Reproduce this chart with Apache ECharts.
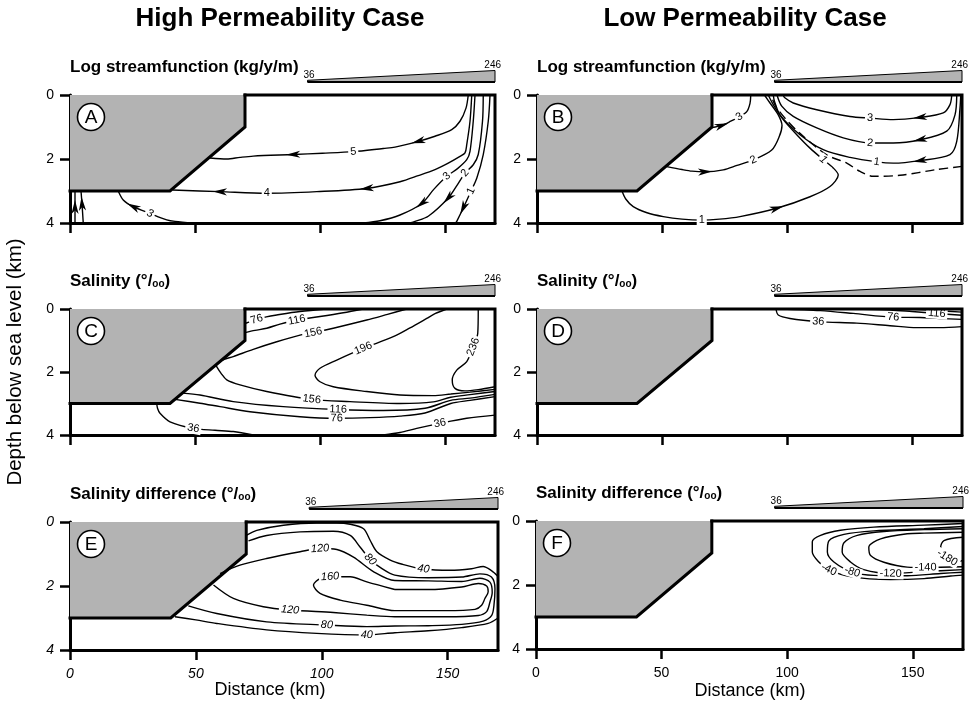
<!DOCTYPE html>
<html><head><meta charset="utf-8">
<script src="https://cdn.jsdelivr.net/npm/echarts@6/dist/echarts.min.js"></script>
<style>html,body{margin:0;padding:0;background:#fff}#c{width:973px;height:708px}</style>
</head><body><div id="c"></div>
<script>
const FONT = "'Liberation Sans', Arial, Helvetica, sans-serif";
// ---------- axes ----------
const xTicks = [0, 50, 100, 150];
const yTicks = [0, 2, 4];
const xRange = [0, 170];
const yRange = [0, 4];
// ---------- geometry (km, depth km) ----------
const basement = [[0,0],[70,0],[70,1],[40,3],[0,3]];
const domainEdge = [[70,0],[170,0],[170,4]];
const surfaceSalinity = [[95,36],[170,246]];

// ---------- Panel A : log streamfunction, high permeability ----------
const A_psi5 = [[159.3,0],[158.4,0.41],[156,0.82],[152.7,1.08],[146,1.29],[139.3,1.45],[130,1.63],[125.3,1.67],[113.3,1.77],[101,1.82],[89.3,1.86],[73.3,1.91],[68,1.95],[62.7,2.0],[56,1.97]];
const A_psi4 = [[160.7,0],[160,0.82],[158.7,1.55],[158,1.81],[156,1.92],[151.3,2.13],[146,2.33],[139.3,2.52],[132,2.71],[118.7,2.92],[98.7,3.02],[78.7,3.07],[60,3.02],[41,2.97]];
const A_psi3 = [[162,0],[161.3,0.82],[160,1.76],[158.7,2.02],[155,2.3],[150.7,2.54],[145.5,2.95],[140.7,3.39],[132,3.75],[124,3.93],[117.3,4.0]];
const A_psi3b = [[49.3,4.0],[42,3.95],[38.7,3.9],[32,3.7],[25.3,3.49],[21.3,3.28],[19.3,3.0]];
const A_psi2 = [[165.3,0],[165,0.82],[163.3,1.86],[161.3,2.18],[158,2.44],[155,2.8],[151.3,3.22],[143.3,3.79],[138,3.95],[136,4.0]];
const A_psi1 = [[168,0],[167.3,0.82],[165.3,1.86],[162.7,2.6],[160.4,3.0],[157.3,3.53],[154.7,3.95],[154.3,4.0]];
const A_up1 = [[2,4],[2,3.5],[2,3]];
const A_up2 = [[5.3,4],[4.8,3.4],[4.4,3]];

// ---------- Panel B : log streamfunction, low permeability ----------
const B_psi3r = [[165.9,0],[165.2,0.3],[162.5,0.56],[153.2,0.7],[142.5,0.77],[133.2,0.72],[125.2,0.67],[111.9,0.46],[102.5,0.25],[99,0.08],[98.5,0]];
const B_psi2r = [[167.9,0],[167.2,0.62],[163.9,1.13],[153.2,1.4],[142.5,1.5],[133.2,1.5],[122.5,1.34],[111.9,1.03],[102.5,0.67],[97.9,0.35],[96,0]];
const B_psi1r = [[169.5,0],[169.2,0.41],[167.9,1.45],[165.2,1.86],[153.2,2.05],[142.5,2.13],[135.9,2.09],[125.2,1.95],[114.5,1.71],[105.2,1.24],[97.2,0.62],[95,0.2],[94.5,0]];
const B_dash = [[170,2.23],[159.9,2.33],[145.2,2.51],[134.5,2.54],[129.2,2.39],[123.9,2.13],[115.9,1.87],[105.2,1.2],[99.5,0.75],[95.5,0.35],[93.5,0]];
const B_psi1l = [[34,3.0],[35.5,3.25],[38.5,3.49],[44,3.68],[50.5,3.8],[58,3.88],[65.9,3.91],[73,3.88],[81.2,3.8],[95.9,3.54],[109.2,3.18],[117.2,2.86],[120.5,2.5],[118.5,2.28],[114.5,2.02],[109.2,1.66],[103.9,1.24],[98.5,0.77],[94.5,0.3],[92.5,0]];
const B_psi2l = [[51.9,2.24],[58,2.33],[62,2.38],[67.2,2.4],[74.5,2.34],[80,2.2],[86.5,2.03],[93.9,1.72],[96.9,1.3],[98,0.95],[96.5,0.62],[93.2,0.25],[91,0]];
const B_psi3l = [[70,1.02],[73.9,0.95],[77.5,0.82],[80.9,0.68],[83.9,0.52],[85.2,0.26],[85.5,0]];

// ---------- Panel C : salinity, high permeability ----------
const C_s76a = [[70,0.46],[74.7,0.33],[78.5,0.25],[82.7,0.19],[92,0.08],[102.7,0]];
const C_s116a = [[70,0.75],[74,0.68],[78.7,0.61],[84,0.48],[90.7,0.35],[100,0.24],[109.3,0.12],[117.3,0]];
const C_s156a = [[58.3,1.78],[61,1.62],[65.3,1.51],[73.3,1.28],[82.7,1.04],[92,0.83],[97.3,0.75],[105.3,0.61],[118.7,0.35],[127,0.17],[134.7,0]];
const C_s156b = [[58.3,1.78],[60.5,2.05],[62.7,2.25],[68,2.41],[78.7,2.62],[96.7,2.87],[112,2.94],[132,3.0],[145.3,2.95],[152.3,2.8],[160,2.72],[170,2.62]];
const C_s116b = [[45,2.67],[52,2.73],[65.3,2.94],[85.3,3.1],[107.3,3.19],[125.3,3.22],[142,3.15],[152.3,2.9],[160,2.83],[170,2.71]];
const C_s76b = [[42,2.87],[52,2.99],[60,3.1],[72,3.26],[92,3.42],[106.7,3.47],[120,3.45],[132,3.4],[142,3.3],[152.3,3.0],[160,2.9],[170,2.78]];
const C_s196 = [[150.7,0],[146,0.15],[142.7,0.3],[136,0.6],[129.3,0.88],[117.3,1.25],[106.7,1.62],[100,1.88],[98,2.1],[100,2.31],[105.3,2.47],[118.7,2.62],[132,2.73],[145.3,2.75],[152.3,2.7],[160,2.64],[170,2.55]];
const C_s236 = [[163.3,0],[163.1,0.77],[161.3,1.2],[158.7,1.67],[154.7,1.94],[152.9,2.25],[154,2.52],[158,2.6],[163.3,2.56],[170,2.47]];
const C_s36a = [[34.7,3.0],[35,3.15],[36,3.31],[40,3.58],[49.3,3.79],[58,3.85],[65.3,3.89],[73.3,4.0]];
const C_s36b = [[125.3,4.0],[132,3.92],[138.7,3.79],[148,3.63],[158.7,3.47],[170,3.37]];

// ---------- Panel D : salinity, low permeability ----------
const D_s36 = [[95.6,0],[96.5,0.19],[101.2,0.3],[112.5,0.4],[127.9,0.45],[141.2,0.53],[151.9,0.59],[161.2,0.59],[170,0.56]];
const D_s76 = [[97.3,0],[113.3,0.05],[126.5,0.14],[142.5,0.26],[153.2,0.27],[161,0.3],[170,0.33]];
const D_s116 = [[125,0],[141.2,0.03],[150,0.08],[159.9,0.14],[170,0.2]];
const D_s156 = [[148,0],[160,0.05],[170,0.1]];

// ---------- Panel E : salinity difference, high permeability ----------
const E_d40a = [[70,0.42],[74.2,0.26],[84.8,0.1],[98,0.03],[106,0.03],[111.3,0.07],[116.6,0.21],[119.2,0.57],[121.9,0.93],[127.2,1.19],[132,1.32],[140.4,1.47],[151,1.51],[159.5,1.46],[164.1,1.39],[167.4,1.52],[170,1.7]];
const E_d40b = [[41.7,2.96],[50,3.06],[58.3,3.17],[78.1,3.37],[98,3.48],[117.9,3.53],[129,3.46],[142.3,3.4],[155.6,3.3],[166.1,3.17],[170,3.0]];
const E_d80 = [[70.9,0.59],[78.1,0.42],[91.4,0.31],[104.6,0.29],[111.3,0.42],[115.2,0.78],[119.2,1.17],[123.2,1.42],[129,1.66],[142.3,1.74],[155.6,1.72],[162.8,1.62],[167.4,1.72],[168.8,2.09],[168.4,2.6],[167.5,2.92],[164.1,3.1],[155.6,3.2],[142.3,3.24],[129,3.25],[117.9,3.27],[102,3.22],[78.1,3.12],[58.3,2.86],[47,2.62]];
const E_d120 = [[59.6,1.61],[67.5,1.35],[78.1,1.14],[91.4,0.93],[99.3,0.83],[106,0.86],[112.6,1.1],[120.5,1.55],[129,1.83],[142.3,1.84],[155.6,1.86],[162.8,1.76],[166.8,1.88],[167.7,2.2],[166.8,2.5],[165.5,2.8],[162.2,2.92],[149,2.96],[129,2.96],[117.9,2.91],[104.6,2.83],[87.4,2.75],[76.8,2.65],[64.9,2.39],[57,1.97]];
const E_d160 = [[129,2.11],[117.9,1.87],[111.3,1.71],[103.3,1.71],[99.3,1.77],[96.7,1.97],[99.3,2.23],[107.3,2.44],[117.9,2.6],[129,2.77],[149,2.77],[160.9,2.73],[163.5,2.6],[164.8,2.39],[166.1,2.18],[165.5,2.0],[162.2,1.92],[155.6,2.03],[142.3,2.11],[129,2.11]];

// ---------- Panel F : salinity difference, low permeability ----------
const F_m40 = [[170,0.08],[154.5,0.13],[134.5,0.19],[121.2,0.29],[113.3,0.45],[110,0.65],[110,0.97],[112.6,1.28],[116.6,1.52],[125.2,1.74],[141.2,1.83],[154.5,1.8],[165.1,1.72],[170,1.69]];
const F_m80 = [[170,0.17],[154.5,0.24],[134.5,0.31],[122.6,0.42],[116.6,0.62],[116,0.97],[118.6,1.28],[125.9,1.59],[134.5,1.7],[147.8,1.71],[161.1,1.64],[170,1.6]];
const F_m120 = [[170,0.24],[154.5,0.27],[138.5,0.33],[127.9,0.45],[122.6,0.68],[121.9,0.97],[125.2,1.28],[130.5,1.52],[141.2,1.64],[154.5,1.58],[170,1.52]];
const F_m140 = [[170,0.35],[154.5,0.38],[147.8,0.4],[137.2,0.56],[132.5,0.82],[133.2,1.08],[138.5,1.29],[147.8,1.44],[155.1,1.45],[170,1.43]];
const F_m180 = [[170,0.51],[162.4,0.61],[161.1,0.82],[163.7,1.15],[170,1.25]];

// ---------- text ----------
const caseTitles = ['High Permeability Case', 'Low Permeability Case'];
const rowTitles = [
  '{b|Log streamfunction (kg/y/m)}',
  '{b|Salinity (°/}{s|oo}{b|)}',
  '{b|Salinity difference (°/}{s|oo}{b|)}'
];
const panelLetters = ['A','B','C','D','E','F'];

// ---------- panel layout ----------
const grids = [
  {left:70, top:95, width:425, height:128},
  {left:537, top:95, width:425, height:128},
  {left:70, top:309, width:425, height:126},
  {left:537, top:309, width:425, height:126},
  {left:70, top:522, width:428, height:128},
  {left:536, top:521, width:427, height:128}
];

const panels = [
  {lines:[A_psi5,A_psi4,A_psi3,A_psi3b,A_psi2,A_psi1,A_up1,A_up2], dashed:[],
   labels:[[A_psi5,8,'5'],[A_psi4,11,'4'],[A_psi3,5,'3'],[A_psi3b,3,'3',true],[A_psi2,4,'2'],[A_psi1,4,'1']],
   arrows:[[A_psi5,5],[A_psi5,10],[A_psi4,9],[A_psi4,12],[A_psi3,7],[A_psi3b,4],[A_psi2,6],[A_psi1,5],[A_up1,1],[A_up2,1]],
   showX:false, italic:false},
  {lines:[B_psi3r,B_psi2r,B_psi1r,B_psi1l,B_psi2l,B_psi3l], dashed:[B_dash],
   labels:[[B_psi3r,5,'3'],[B_psi2r,5,'2'],[B_psi1r,6,'1'],[B_psi1l,6,'1'],[B_psi1l,14,'1',true],[B_psi2l,6,'2'],[B_psi3l,3,'3']],
   arrows:[[B_psi3r,3],[B_psi2r,3],[B_psi1r,4],[B_psi1l,9],[B_psi2l,3],[B_psi3l,1]],
   showX:false, italic:false},
  {lines:[C_s76a,C_s116a,C_s156a,C_s156b,C_s116b,C_s76b,C_s196,C_s236,C_s36a,C_s36b], dashed:[],
   labels:[[C_s76a,1,'76'],[C_s116a,4,'116'],[C_s156a,6,'156'],[C_s156b,5,'156'],[C_s116b,4,'116'],[C_s76b,5,'76'],[C_s196,5,'196'],[C_s236,2,'236'],[C_s36a,4,'36'],[C_s36b,3,'36']],
   arrows:[], showX:false, italic:false},
  {lines:[D_s36,D_s76,D_s116,D_s156], dashed:[],
   labels:[[D_s36,3,'36'],[D_s76,3,'76'],[D_s116,3,'116']],
   arrows:[], showX:false, italic:false},
  {lines:[E_d40a,E_d40b,E_d80,E_d120,E_d160], dashed:[],
   labels:[[E_d40a,11,'40',true],[E_d40b,5,'40',true],[E_d80,6,'80',true],[E_d80,21,'80',true],[E_d120,4,'120',true],[E_d120,21,'120',true],[E_d160,3,'160',true]],
   arrows:[], showX:true, italic:true},
  {lines:[F_m40,F_m80,F_m120,F_m140,F_m180], dashed:[],
   labels:[[F_m40,8,'-40'],[F_m80,7,'-80'],[F_m120,8,'-120'],[F_m140,8,'-140'],[F_m180,3,'-180']],
   arrows:[], showX:true, italic:false}
];

const GRAY = '#b3b3b3';
const xAxes = [], yAxes = [], series = [], graphics = [];

function dirAngle(api, v) {
  const a = api.coord([v[2], v[3]]), b = api.coord([v[4], v[5]]);
  return Math.atan2(b[1]-a[1], b[0]-a[0]);
}
function neighbourData(L, i) {
  const a = L[Math.max(0, i-1)], b = L[Math.min(L.length-1, i+1)];
  return [L[i][0], L[i][1], a[0], a[1], b[0], b[1]];
}

panels.forEach((p, gi) => {
  const ital = p.italic ? 'italic' : 'normal';
  xAxes.push({gridIndex:gi, type:'value', min:xRange[0], max:xRange[1], interval:50,
    axisLine:{show:true, onZero:false, lineStyle:{color:'#000', width:3}},
    axisTick:{show:true, length:10, customValues:xTicks, lineStyle:{color:'#000', width:2.5}},
    axisLabel:{show:p.showX, customValues:xTicks, color:'#000', fontSize:14, fontFamily:FONT, fontStyle:ital, margin:17},
    splitLine:{show:false}});
  yAxes.push({gridIndex:gi, type:'value', min:yRange[0], max:yRange[1], interval:2, inverse:true,
    axisLine:{show:true, onZero:false, lineStyle:{color:'#000', width:3}},
    axisTick:{show:true, length:10, customValues:yTicks, lineStyle:{color:'#000', width:2.5}},
    axisLabel:{customValues:yTicks, color:'#000', fontSize:14, fontFamily:FONT, fontStyle:ital, margin:16},
    splitLine:{show:false}});
  // basement fill
  series.push({type:'custom', xAxisIndex:gi, yAxisIndex:gi, z:1, silent:true, data:[[0,0]],
    renderItem:(params, api) => ({type:'polygon', shape:{points:basement.map(q => api.coord(q))}, style:{fill:GRAY}})});
  // contour lines
  p.lines.forEach(L => series.push({type:'line', xAxisIndex:gi, yAxisIndex:gi, data:L, smooth:0.3,
    showSymbol:false, symbol:'none', silent:true, z:2, lineStyle:{color:'#000', width:1.4}}));
  p.dashed.forEach(L => series.push({type:'line', xAxisIndex:gi, yAxisIndex:gi, data:L, smooth:0.3,
    showSymbol:false, symbol:'none', silent:true, z:2, lineStyle:{color:'#000', width:1.4, type:[9,5]}}));
  // contour labels
  if (p.labels.length) series.push({type:'custom', xAxisIndex:gi, yAxisIndex:gi, z:6, silent:true,
    data:p.labels.map(s => neighbourData(s[0], s[1])),
    renderItem:(params, api) => {
      const s = p.labels[params.dataIndex];
      const v = [0,1,2,3,4,5].map(k => api.value(k));
      const pt = api.coord([v[0], v[1]]);
      let ang = dirAngle(api, v);
      if (ang > Math.PI/2) ang -= Math.PI;
      if (ang < -Math.PI/2) ang += Math.PI;
      return {type:'text', x:pt[0], y:pt[1], rotation:-ang,
        style:{text:s[2], fill:'#000', font:(s[3] ? 'italic ' : '') + '11px ' + FONT,
          align:'center', verticalAlign:'middle', backgroundColor:'#fff', padding:[0,2,0,2]}};
    }});
  // arrow heads
  if (p.arrows.length) series.push({type:'custom', xAxisIndex:gi, yAxisIndex:gi, z:7, silent:true,
    data:p.arrows.map(s => neighbourData(s[0], s[1])),
    renderItem:(params, api) => {
      const v = [0,1,2,3,4,5].map(k => api.value(k));
      const c = api.coord([v[0], v[1]]);
      const ang = dirAngle(api, v);
      const ux = Math.cos(ang), uy = Math.sin(ang), nx = -uy, ny = ux;
      const L = 7, W = 3.6;
      const pts = [
        [c[0]+ux*L, c[1]+uy*L],
        [c[0]-ux*L+nx*W, c[1]-uy*L+ny*W],
        [c[0]-ux*L*0.45, c[1]-uy*L*0.45],
        [c[0]-ux*L-nx*W, c[1]-uy*L-ny*W]
      ];
      return {type:'polygon', shape:{points:pts}, style:{fill:'#000'}};
    }});
  // domain outline + basement edge
  series.push({type:'custom', xAxisIndex:gi, yAxisIndex:gi, z:8, silent:true, data:[[0,0]],
    renderItem:(params, api) => ({type:'group', children:[
      {type:'polyline', shape:{points:domainEdge.map(q => api.coord(q))}, style:{stroke:'#000', lineWidth:3, fill:null, lineJoin:'miter', lineCap:'square'}},
      {type:'polyline', shape:{points:basement.slice(1).map(q => api.coord(q))}, style:{stroke:'#000', lineWidth:3, fill:null, lineJoin:'miter', lineCap:'square'}}
    ]})});
  // surface salinity wedge
  series.push({type:'custom', xAxisIndex:gi, yAxisIndex:gi, z:8, silent:true, clip:false, data:[[0,0]],
    renderItem:(params, api) => {
      const l = api.coord([surfaceSalinity[0][0], 0]), r = api.coord([surfaceSalinity[1][0], 0]);
      const base = l[1] - 13, hMax = 11.5, vMax = surfaceSalinity[1][1];
      const hl = hMax * surfaceSalinity[0][1] / vMax;
      return {type:'group', children:[
        {type:'polygon', shape:{points:[[l[0],base],[r[0],base],[r[0],base-hMax],[l[0],base-hl]]}, style:{fill:GRAY, stroke:'#000', lineWidth:1}},
        {type:'line', shape:{x1:l[0], y1:base, x2:r[0], y2:base}, style:{stroke:'#000', lineWidth:1.8}},
        {type:'text', x:l[0]-4, y:base-1.5, style:{text:String(surfaceSalinity[0][1]), font:'10px ' + FONT, fill:'#000', align:'left', verticalAlign:'bottom'}},
        {type:'text', x:r[0]+6, y:base-hMax, style:{text:String(surfaceSalinity[1][1]), font:'10px ' + FONT, fill:'#000', align:'right', verticalAlign:'bottom'}}
      ]};
    }});
  // panel letter
  const g = grids[gi];
  graphics.push({type:'circle', shape:{cx:g.left+21, cy:g.top+22, r:13.5}, style:{fill:'#fff', stroke:'#000', lineWidth:1.6}, z:20});
  graphics.push({type:'text', x:g.left+21, y:g.top+22.5, style:{text:panelLetters[gi], font:'19px ' + FONT, fill:'#000', align:'center', verticalAlign:'middle'}, z:21});
  // row title
  const rich = {b:{fontSize:17, fontWeight:'bold', fontFamily:FONT, fill:'#000', color:'#000'},
                s:{fontSize:10, fontWeight:'bold', fontFamily:FONT, fill:'#000', color:'#000', verticalAlign:'bottom', padding:[6,0,0,0]}};
  graphics.push({type:'text', x:g.left, y:g.top - 28, style:{text:rowTitles[Math.floor(gi/2)], rich:rich, align:'left', verticalAlign:'middle', fill:'#000'}, z:21});
});

graphics.push({type:'text', x:280, y:19, style:{text:caseTitles[0], font:'bold 26px ' + FONT, fill:'#000', align:'center', verticalAlign:'middle'}});
graphics.push({type:'text', x:745, y:19, style:{text:caseTitles[1], font:'bold 26px ' + FONT, fill:'#000', align:'center', verticalAlign:'middle'}});
graphics.push({type:'text', x:270, y:690, style:{text:'Distance (km)', font:'18px ' + FONT, fill:'#000', align:'center', verticalAlign:'middle'}});
graphics.push({type:'text', x:750, y:691, style:{text:'Distance (km)', font:'18px ' + FONT, fill:'#000', align:'center', verticalAlign:'middle'}});
graphics.push({type:'text', x:15, y:362, rotation:Math.PI/2, style:{text:'Depth below sea level (km)', font:'20.5px ' + FONT, fill:'#000', align:'center', verticalAlign:'middle'}});

const chart = echarts.init(document.getElementById('c'), null, {renderer:'canvas'});
chart.setOption({
  animation:false,
  backgroundColor:'#fff',
  grid:grids,
  xAxis:xAxes,
  yAxis:yAxes,
  series:series,
  graphic:graphics
});
</script></body></html>
